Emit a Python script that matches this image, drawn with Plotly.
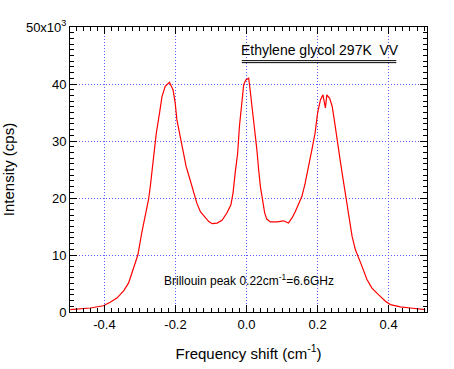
import plotly.graph_objects as go

# Frequency shift (cm^-1) and intensity (cps)
shift = [-0.496, -0.440, -0.403, -0.384, -0.365, -0.346, -0.332, -0.320, -0.306,
         -0.295, -0.283, -0.276, -0.271, -0.262, -0.254, -0.245, -0.238, -0.229,
         -0.217, -0.207, -0.201, -0.196, -0.187, -0.179, -0.170, -0.159, -0.149,
         -0.140, -0.130, -0.119, -0.107, -0.097, -0.083, -0.069, -0.055, -0.044,
         -0.038, -0.032, -0.025, -0.020, -0.013, -0.008, -0.002, 0.006, 0.010,
         0.017, 0.025, 0.029, 0.034, 0.039, 0.045, 0.051, 0.057, 0.067, 0.086,
         0.104, 0.118, 0.128, 0.137, 0.146, 0.156, 0.165, 0.175, 0.184, 0.193,
         0.200, 0.208, 0.215, 0.222, 0.226, 0.234, 0.241, 0.247, 0.255, 0.262,
         0.269, 0.275, 0.281, 0.287, 0.297, 0.306, 0.313, 0.325, 0.339, 0.353,
         0.372, 0.391, 0.405, 0.433, 0.461, 0.489, 0.503]
intensity = [400, 700, 1100, 1700, 2450, 3700, 5100, 7400, 10000,
             13900, 17400, 19700, 22000, 27300, 31400, 34900, 37800, 39600,
             40300, 39000, 36700, 33700, 30800, 27900, 25500, 23200, 20900,
             19100, 17600, 16800, 15900, 15500, 15600, 16100, 17400, 18800,
             20900, 24400, 27900, 32600, 36700, 39900, 40700, 41000, 39000,
             35500, 30800, 28500, 25000, 22000, 19700, 17400, 16300, 15800, 15800,
             16000, 15600, 16500, 17600, 18800, 20300, 22600, 25500, 28500, 31400,
             34900, 37200, 38100, 35800, 38100, 37500, 36100, 33700, 29900, 27300,
             24400, 22000, 19700, 16800, 13300, 11000, 10000, 8000, 5700, 4200,
             3000, 1900, 1300, 900, 700, 500, 400]

x_ticks = [-0.4, -0.2, 0.0, 0.2, 0.4]
x_labels = ["-0.4", "-0.2", "0.0", "0.2", "0.4"]
y_ticks = [0, 10000, 20000, 30000, 40000, 50000]
y_labels = ["0", "10", "20", "30", "40", "50x10<sup>3</sup>"]

FONT = "Liberation Sans, Arial, sans-serif"
GRID = "#5a5aff"

fig = go.Figure()
fig.add_trace(go.Scatter(x=shift, y=intensity, mode="lines",
                         line=dict(color="#ff0000", width=1.2),
                         showlegend=False))

axis_common = dict(
    showline=True, linecolor="black", linewidth=1, mirror="allticks",
    ticks="inside", ticklen=7, tickcolor="black", tickwidth=1,
    showgrid=True, gridcolor=GRID, griddash="1px,2px", gridwidth=1,
    zeroline=False, automargin=False,
    tickfont=dict(family=FONT, size=13, color="black"),
)

fig.update_xaxes(
    range=[-0.497, 0.508], tickvals=x_ticks, ticktext=x_labels,
    minor=dict(dtick=0.02, tick0=0, ticks="inside", ticklen=4,
               tickcolor="black", showgrid=False),
    title=dict(text="Frequency shift (cm<sup>-1</sup>)",
               font=dict(family=FONT, size=15, color="black"), standoff=17),
    **axis_common,
)
fig.update_yaxes(
    range=[0, 50000], tickvals=y_ticks, ticktext=y_labels,
    minor=dict(dtick=1000, tick0=0, ticks="inside", ticklen=4,
               tickcolor="black", showgrid=False),
    title=dict(text="Intensity (cps)",
               font=dict(family=FONT, size=15, color="black"), standoff=10),
    **axis_common,
)

fig.add_annotation(x=-0.0135, y=46000, xref="x", yref="y",
                   text="Ethylene glycol 297K  VV", showarrow=False,
                   xanchor="left", yanchor="middle", xshift=-3,
                   font=dict(family=FONT, size=14, color="black"))
fig.add_shape(type="line", xref="x", yref="y", x0=-0.0135, x1=0.4217,
              y0=44100, y1=44100, line=dict(color="black", width=1))
fig.add_shape(type="line", xref="x", yref="y", x0=-0.0135, x1=0.4217,
              y0=43750, y1=43750, line=dict(color="black", width=1))
fig.add_annotation(x=-0.229, y=5660, xref="x", yref="y",
                   text="Brillouin peak 0.22cm<sup>-1</sup>=6.6GHz",
                   showarrow=False, xanchor="left", yanchor="middle", xshift=-3,
                   font=dict(family=FONT, size=12, color="black"))

fig.update_layout(
    width=454, height=369,
    margin=dict(l=70, r=27, t=27, b=57),
    paper_bgcolor="white", plot_bgcolor="white",
    font=dict(family=FONT, color="black"),
)

fig.write_html("out.html", config={"displayModeBar": False},
               post_script="document.body.style.margin='0';document.body.style.padding='0';")
